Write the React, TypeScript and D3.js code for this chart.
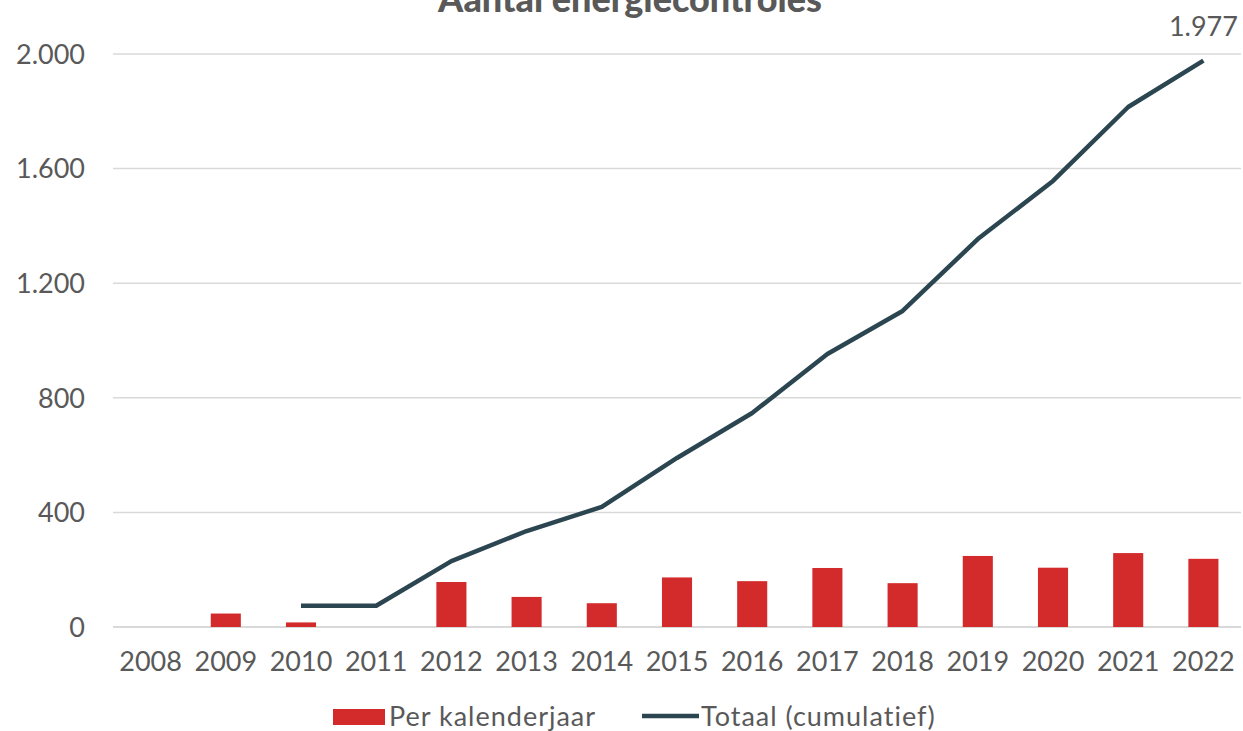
import React, { useEffect, useRef } from 'react';
import * as d3 from 'd3';

const years = ['2008', '2009', '2010', '2011', '2012', '2013', '2014', '2015', '2016', '2017', '2018', '2019', '2020', '2021', '2022'];
// per kalenderjaar (null = geen balk)
const perYear: (number | null)[] = [null, 47, 16, null, 157, 105, 83, 173, 160, 206, 153, 248, 207, 258, 238];
// totaal cumulatief (null = geen punt)
const cumulative: (number | null)[] = [null, null, 74, 74, 230, 335, 419, 590, 747, 953, 1103, 1354, 1557, 1815, 1977];
const yTicks = [0, 400, 800, 1200, 1600, 2000];

const W = 1243;
const H = 731;
const FONT = 'Lato, "Open Sans", sans-serif';
const TEXT = '#595959';
const RED = '#D32B2B';
const LINE = '#2B4650';
const FS = '27px';

const fmt = (v: number) => d3.format(',')(v).replace(/,/g, '.');

export default function App() {
  const svgRef = useRef<SVGSVGElement>(null);

  useEffect(() => {
    if (!svgRef.current) return;
    const svg = d3.select(svgRef.current);
    svg.selectAll('*').remove();

    const margin = { top: 54, right: 2, bottom: 104, left: 113 };
    const innerW = W - margin.left - margin.right;
    const innerH = H - margin.top - margin.bottom;

    const x = d3.scaleBand().domain(years).range([0, innerW]).paddingInner(0.6).paddingOuter(0.3);
    const xc = (d: string) => (x(d) as number) + x.bandwidth() / 2;
    const y = d3.scaleLinear().domain([0, 2000]).range([innerH, 0]);

    const g = svg.append('g').attr('transform', `translate(${margin.left},${margin.top})`);

    // title (bovenkant valt buiten beeld, zoals in het origineel)
    svg.append('text')
      .attr('x', 630)
      .attr('y', 12)
      .attr('text-anchor', 'middle')
      .style('font-family', FONT)
      .style('font-weight', 900)
      .style('font-size', '36px')
      .style('fill', TEXT)
      .text('Aantal energiecontroles');

    // gridlines
    g.selectAll('.grid')
      .data(yTicks)
      .enter()
      .append('line')
      .attr('x1', 0)
      .attr('x2', innerW)
      .attr('y1', d => y(d))
      .attr('y2', d => y(d))
      .attr('stroke', '#d9d9d9')
      .attr('stroke-width', d => (d === 0 ? 2 : 1.5));

    // y labels
    g.selectAll('.ylab')
      .data(yTicks)
      .enter()
      .append('text')
      .attr('x', -28)
      .attr('y', d => y(d))
      .attr('dy', '0.36em')
      .attr('text-anchor', 'end')
      .style('font-family', FONT)
      .style('font-size', FS)
      .style('fill', TEXT)
      .text(d => fmt(d));

    // x labels
    g.selectAll('.xlab')
      .data(years)
      .enter()
      .append('text')
      .attr('x', d => xc(d))
      .attr('y', innerH + 44)
      .attr('text-anchor', 'middle')
      .style('font-family', FONT)
      .style('font-size', FS)
      .style('fill', TEXT)
      .text(d => d);

    // bars
    const barData = years.map((yr, i) => ({ yr, v: perYear[i] })).filter(d => d.v != null) as { yr: string; v: number }[];
    g.selectAll('.bar')
      .data(barData)
      .enter()
      .append('rect')
      .attr('x', d => x(d.yr) as number)
      .attr('width', x.bandwidth())
      .attr('y', d => y(d.v))
      .attr('height', d => innerH - y(d.v))
      .attr('fill', RED);

    // line
    const lineData = years.map((yr, i) => ({ yr, v: cumulative[i] })).filter(d => d.v != null) as { yr: string; v: number }[];
    const line = d3.line<{ yr: string; v: number }>()
      .x(d => xc(d.yr))
      .y(d => y(d.v));
    g.append('path')
      .datum(lineData)
      .attr('d', line)
      .attr('fill', 'none')
      .attr('stroke', LINE)
      .attr('stroke-width', 4.5)
      .attr('stroke-linejoin', 'round');

    // last label
    const last = lineData[lineData.length - 1];
    g.append('text')
      .attr('x', xc(last.yr))
      .attr('y', y(last.v) - 25)
      .attr('text-anchor', 'middle')
      .style('font-family', FONT)
      .style('font-size', FS)
      .style('fill', TEXT)
      .text(fmt(last.v));

    // legend
    const leg = svg.append('g').attr('transform', 'translate(333,706)');
    leg.append('rect').attr('x', 0).attr('y', 3).attr('width', 52).attr('height', 16).attr('fill', RED);
    leg.append('text')
      .attr('x', 56).attr('y', 10).attr('dy', '0.36em')
      .style('font-family', FONT).style('font-size', FS).style('letter-spacing', '1px').style('fill', TEXT)
      .text('Per kalenderjaar');
    leg.append('line')
      .attr('x1', 309).attr('x2', 366).attr('y1', 10).attr('y2', 10)
      .attr('stroke', LINE).attr('stroke-width', 4.5);
    leg.append('text')
      .attr('x', 368).attr('y', 10).attr('dy', '0.36em')
      .style('font-family', FONT).style('font-size', FS).style('letter-spacing', '1px').style('fill', TEXT)
      .text('Totaal (cumulatief)');
  }, []);

  return (
    <svg
      ref={svgRef}
      width={W}
      height={H}
      style={{ position: 'absolute', left: 0, top: 0, background: '#fff' }}
    />
  );
}
